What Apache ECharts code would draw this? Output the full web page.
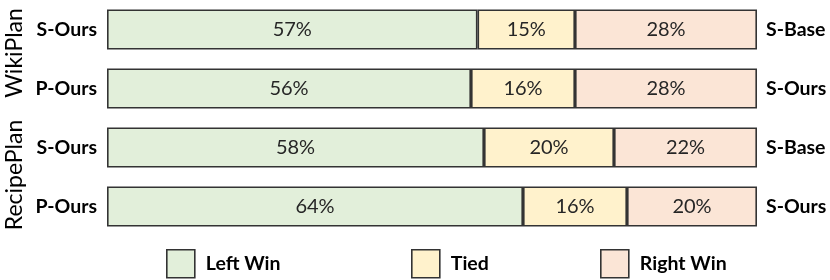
<!DOCTYPE html>
<html>
<head>
<meta charset="utf-8">
<script src="https://cdn.jsdelivr.net/npm/echarts@6/dist/echarts.min.js"></script>
<style>html,body{margin:0;padding:0;background:#fff}#c{width:830px;height:280px}</style>
</head>
<body>
<div id="c"></div>
<script>
const leftLabels = ['S-Ours', 'P-Ours', 'S-Ours', 'P-Ours'];
const rightLabels = ['S-Base', 'S-Ours', 'S-Base', 'S-Ours'];
const groupLabels = ['WikiPlan', 'RecipePlan'];
const seriesNames = ['Left Win', 'Tied', 'Right Win'];
const leftWin = [57, 56, 58, 64];
const tied = [15, 16, 20, 16];
const rightWin = [28, 28, 22, 20];

const FONT = 'Lato';
const colors = ['#E2EFDA', '#FFF2CC', '#FBE5D6'];
const values = [leftWin, tied, rightWin];

const chart = echarts.init(document.getElementById('c'), null, {renderer: 'canvas'});
const series = seriesNames.map((name, i) => ({
  name: name,
  type: 'bar',
  stack: 'total',
  barWidth: 40,
  data: values[i],
  itemStyle: {color: colors[i], borderColor: '#333333', borderWidth: 1.6},
  label: {
    show: true, position: 'inside', formatter: '{c}%',
    fontFamily: FONT, fontSize: 20, color: '#262626'
  },
  emphasis: {disabled: true}
}));

const legendLefts = [166, 411, 600];
chart.setOption({
  animation: false,
  grid: {left: 107, right: 73, top: -8, height: 244},
  xAxis: {type: 'value', min: 0, max: 100, show: false},
  yAxis: [
    {type: 'category', inverse: true, data: leftLabels,
     axisLine: {show: false}, axisTick: {show: false}, splitLine: {show: false},
     axisLabel: {margin: 10, fontFamily: FONT, fontWeight: 'bold', fontSize: 19.5, color: '#000'}},
    {type: 'category', inverse: true, position: 'right', data: rightLabels,
     axisLabel: {margin: 9, fontFamily: FONT, fontWeight: 'bold', fontSize: 19.5, color: '#000'},
     axisLine: {show: false}, axisTick: {show: false}, splitLine: {show: false}}
  ],
  legend: seriesNames.map((n, i) => ({
    data: [n], left: legendLefts[i], top: 249, icon: 'rect',
    itemWidth: 28, itemHeight: 28, itemGap: 0, padding: 0, itemTextGap: 12,
    itemStyle: {borderColor: '#333333', borderWidth: 1.6},
    textStyle: {fontFamily: FONT, fontWeight: 'bold', fontSize: 19.5, color: '#000', padding: [0, 0, 0, 6]},
    selectedMode: false
  })),
  graphic: groupLabels.map((t, i) => ({
    type: 'text', x: 15, y: i === 0 ? 53 : 175, rotation: Math.PI / 2,
    style: {text: t, fontFamily: FONT, fontSize: 23, fill: '#000', align: 'center', verticalAlign: 'middle'}
  })),
  series: series
});
</script>
</body>
</html>
